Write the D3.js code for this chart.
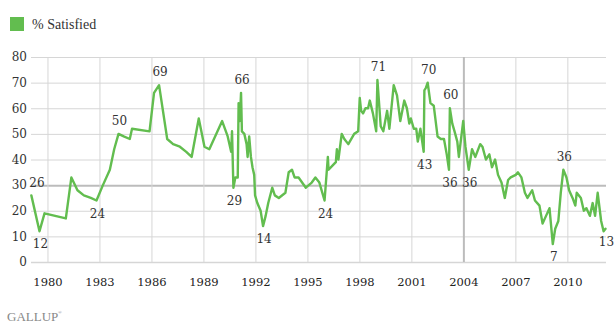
<!DOCTYPE html>
<html><head><meta charset="utf-8">
<script src="https://cdn.jsdelivr.net/npm/d3@7"></script>
<style>
html,body{margin:0;padding:0;background:#fff;}
svg{display:block;}
</style></head>
<body>
<svg id="chart" width="615" height="330"></svg>
<script>
// ---- data ----
const seriesName = "% Satisfied";
const dates = [
 1979.07,1979.54,1979.83,1981.06,1981.38,1981.73,1982.10,1982.50,1982.83,1983.20,
 1983.60,1983.85,1984.10,1984.40,1984.75,1984.88,1985.89,1986.15,1986.44,1986.91,
 1987.25,1987.64,1988.01,1988.32,1988.73,1989.06,1989.34,1990.08,1990.40,1990.60,
 1990.65,1990.73,1990.84,1990.98,1991.03,1991.10,1991.17,1991.22,1991.36,1991.49,
 1991.55,1991.64,1991.74,1991.83,1991.93,1991.98,1992.11,1992.30,1992.44,1992.59,
 1992.74,1992.97,1993.12,1993.35,1993.73,1993.92,1994.11,1994.26,1994.49,1994.91,
 1995.25,1995.46,1995.69,1995.99,1996.18,1996.22,1996.50,1996.64,1996.70,1996.79,
 1996.98,1997.13,1997.36,1997.70,1997.93,1998.02,1998.10,1998.21,1998.35,1998.50,
 1998.60,1998.78,1998.97,1999.04,1999.23,1999.38,1999.60,1999.73,1999.98,2000.17,
 2000.36,2000.59,2000.74,2000.88,2000.97,2001.14,2001.28,2001.37,2001.52,2001.71,
 2001.75,2001.84,2001.94,2002.10,2002.29,2002.51,2002.70,2002.88,2003.04,2003.17,
 2003.22,2003.36,2003.49,2003.65,2003.74,2003.99,2004.12,2004.31,2004.50,2004.69,
 2004.97,2005.10,2005.30,2005.50,2005.65,2005.83,2006.00,2006.20,2006.39,2006.58,
 2006.73,2007.02,2007.15,2007.35,2007.55,2007.70,2007.97,2008.13,2008.39,2008.57,
 2008.77,2008.97,2009.16,2009.30,2009.48,2009.62,2009.77,2009.95,2010.10,2010.30,
 2010.46,2010.54,2010.78,2010.95,2011.10,2011.30,2011.46,2011.60,2011.75,2011.95,
 2012.09,2012.20
];
const satisfied = [
 26,12,19,17,33,28,26,25,24,30,
 36,44,50,49,48,52,51,66,69,48,
 46,45,43,41,56,45,44,55,49,43,
 51,29,33,33,62,55,66,51,50,46,
 41,49,41,37,34,26,23,20,14,18,
 23,29,26,25,27,35,36,33,33,29,
 31,33,31,24,41,36,38,39,44,40,
 50,48,46,50,51,64,59,58,60,60,
 63,58,51,71,53,51,59,52,69,65,
 55,63,60,54,56,52,52,47,52,43,
 67,68,70,62,61,49,48,48,42,36,
 60,54,51,47,41,55,45,36,44,41,
 46,45,40,42,37,40,34,31,25,32,
 33,34,35,33,27,25,28,24,22,15,
 18,21,7,13,16,27,36,33,28,25,
 22,27,25,20,21,18,23,18,27,16,
 12,13
];
const yTicks = [0,10,20,30,40,50,60,70,80];
const xTickYears = [1980,1983,1986,1989,1992,1995,1998,2001,2004,2007,2010];
// annotated points
const labelDates  = [1979.07,1979.54,1982.83,1984.10,1986.44,1990.73,1991.17,1992.44,1995.99,1999.04,2001.71,2001.94,2003.17,2003.22,2004.31,2009.16,2009.77,2012.20];
const labelValues = [26,12,24,50,69,29,66,14,24,71,43,70,36,60,36,7,36,13];
const labelSide   = ["above","below","below","above","above","below","above","below","below","above","below","above","below","above","below","below","above","below"];

// ---- layout ----
const svg = d3.select("#chart");
const plotL = 31, plotR = 606, plotT = 57, plotB = 262;
const x = d3.scaleLinear().domain([1979.05, 2012.23]).range([plotL, plotR]);
const y = d3.scaleLinear().domain([0, 80]).range([plotB, plotT]);
const green = "#62bd4f";
const serif = "'DejaVu Serif', serif";

// legend
svg.append("rect").attr("x",10).attr("y",17).attr("width",14).attr("height",14).attr("fill",green);
svg.append("text").attr("x",32).attr("y",28.5).attr("font-family","'Liberation Serif', serif")
  .attr("font-size",14).attr("fill","#333").text(seriesName);

// y axis + horizontal grid
const yAxis = svg.append("g").attr("transform",`translate(${plotL},0)`)
  .call(d3.axisLeft(y).tickValues(yTicks).tickSize(-(plotR-plotL)).tickPadding(4).tickFormat(d3.format("d")));
yAxis.select(".domain").remove();
yAxis.selectAll("line").attr("stroke",d => d===30 ? "#bcbcbc" : "#d6d6d6")
  .attr("stroke-width",d => d===30 ? 2 : (d===0 ? 1.6 : 1));
yAxis.selectAll("text").attr("font-family",serif).attr("font-size",12).attr("fill","#333");

// x axis + vertical grid
const xAxis = svg.append("g").attr("transform",`translate(0,${plotB})`)
  .call(d3.axisBottom(x).tickValues(xTickYears).tickSize(-(plotB-plotT)).tickPadding(16).tickFormat(d3.format("d")));
xAxis.select(".domain").remove();
xAxis.selectAll("line").attr("stroke",d => d===2004 ? "#bcbcbc" : "#d6d6d6")
  .attr("stroke-width",d => d===2004 ? 2 : 1);
xAxis.selectAll("text").attr("font-family",serif).attr("font-size",11.5).attr("fill","#222");

// line
const pts = dates.map((d,i)=>({d, v:satisfied[i]}));
svg.append("path").datum(pts)
  .attr("fill","none").attr("stroke",green).attr("stroke-width",2.4)
  .attr("stroke-linejoin","round").attr("stroke-linecap","round")
  .attr("d", d3.line().x(p=>x(p.d)).y(p=>y(p.v)));

// annotations
svg.append("g").selectAll("text").data(labelDates.map((d,i)=>({d,v:labelValues[i],s:labelSide[i]})))
  .join("text")
  .attr("x",p=>Math.max(x(p.d)+1, plotL+6))
  .attr("y",p=>y(p.v) + (p.s==="above" ? -13 : 13))
  .attr("dy","0.35em")
  .attr("text-anchor","middle")
  .attr("font-family",serif).attr("font-size",12).attr("fill","#333")
  .text(p=>p.v);

// logo
svg.append("text").attr("x",7).attr("y",321).attr("font-family","'Liberation Serif', serif")
  .attr("font-size",13).attr("fill","#888").text("GALLUP");
svg.append("text").attr("x",58).attr("y",314).attr("font-family","'Liberation Serif', serif")
  .attr("font-size",5).attr("fill","#888").text("®");
</script>
</body></html>
